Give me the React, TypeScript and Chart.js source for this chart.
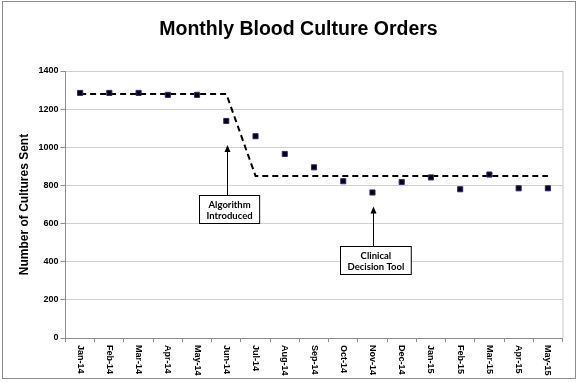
import React, { useEffect, useRef } from "react";
import { Chart, registerables } from "chart.js";

Chart.register(...registerables);

const chartTitle = "Monthly Blood Culture Orders";
const yAxisTitle = "Number of Cultures Sent";

const categories = [
  "Jan-14", "Feb-14", "Mar-14", "Apr-14", "May-14", "Jun-14", "Jul-14", "Aug-14",
  "Sep-14", "Oct-14", "Nov-14", "Dec-14", "Jan-15", "Feb-15", "Mar-15", "Apr-15", "May-15",
];

const culturesSent = [
  1285, 1285, 1285, 1275, 1275, 1138, 1058, 965, 895, 822, 763, 818, 842, 780, 857, 785, 785,
];

const trendLine = [
  1280, 1280, 1280, 1280, 1280, 1280, 850, 850, 850, 850, 850, 850, 850, 850, 850, 850, 850,
];

const yTicks = [0, 200, 400, 600, 800, 1000, 1200, 1400];

const annotations = [
  { index: 5, tipValue: 1012, boxTopValue: 752, lines: ["Algorithm", "Introduced"] },
  { index: 10, tipValue: 690, boxTopValue: 480, lines: ["Clinical", "Decision Tool"] },
];

const FONT = "Arial, \"Liberation Sans\", Helvetica, sans-serif";

const decorPlugin = {
  id: "decor",
  beforeDraw(chart: any) {
    const ctx = chart.ctx;
    const a = chart.chartArea;
    ctx.save();
    ctx.fillStyle = "#fff";
    ctx.fillRect(0, 0, chart.width, chart.height);
    ctx.strokeStyle = "#8c8c8c";
    ctx.lineWidth = 1;
    ctx.strokeRect(2.5, 1.5, 573, 377);
    ctx.strokeStyle = "#c8c8c8";
    ctx.beginPath();
    ctx.moveTo(a.left, a.top + 0.5);
    ctx.lineTo(a.right + 0.5, a.top + 0.5);
    ctx.lineTo(a.right + 0.5, a.bottom);
    ctx.stroke();
    ctx.restore();
  },
  afterDraw(chart: any) {
    const ctx = chart.ctx;
    const xs = chart.scales.x;
    const ys = chart.scales.y;
    const a = chart.chartArea;
    ctx.save();
    // title
    ctx.fillStyle = "#000";
    ctx.font = `bold 19.5px ${FONT}`;
    ctx.textAlign = "center";
    ctx.textBaseline = "middle";
    ctx.fillText(chartTitle, 298.5, 30);
    // rotated category labels (top-to-bottom)
    ctx.font = `bold 9px ${FONT}`;
    ctx.textAlign = "left";
    ctx.textBaseline = "middle";
    categories.forEach((c, i) => {
      const x = xs.getPixelForValue(i);
      ctx.save();
      ctx.translate(x, a.bottom + 7);
      ctx.rotate(Math.PI / 2);
      ctx.fillText(c, 0, 0);
      ctx.restore();
    });
    // annotations
    annotations.forEach((an) => {
      const x = Math.round(xs.getPixelForValue(an.index)) + 1.5;
      const tipY = ys.getPixelForValue(an.tipValue);
      const boxTop = Math.round(ys.getPixelForValue(an.boxTopValue)) + 0.5;
      ctx.font = `bold 9.5px Lato, "Open Sans", sans-serif`;
      const w = Math.max(...an.lines.map((l) => ctx.measureText(l).width)) + 14;
      const h = 28;
      ctx.strokeStyle = "#000";
      ctx.lineWidth = 1;
      ctx.beginPath();
      ctx.moveTo(x, boxTop);
      ctx.lineTo(x, tipY + 2);
      ctx.stroke();
      ctx.fillStyle = "#000";
      ctx.beginPath();
      ctx.moveTo(x, tipY);
      ctx.lineTo(x - 3, tipY + 7);
      ctx.lineTo(x + 3, tipY + 7);
      ctx.closePath();
      ctx.fill();
      const bx = Math.round(x - w / 2 + 2) + 0.5;
      ctx.fillStyle = "#fff";
      ctx.fillRect(bx, boxTop, w, h);
      ctx.strokeRect(bx, boxTop, w, h);
      ctx.fillStyle = "#000";
      ctx.textAlign = "center";
      ctx.textBaseline = "middle";
      an.lines.forEach((l, k) => {
        ctx.fillText(l, bx + w / 2, boxTop + 9 + k * 11);
      });
    });
    ctx.restore();
  },
};

export default function App() {
  const ref = useRef<HTMLCanvasElement | null>(null);
  useEffect(() => {
    if (!ref.current) return;
    const chart = new Chart(ref.current, {
      type: "line",
      data: {
        labels: categories,
        datasets: [
          {
            label: "Cultures Sent",
            data: culturesSent,
            showLine: false,
            pointStyle: "rect",
            pointRadius: 3.6,
            pointHoverRadius: 3.6,
            backgroundColor: "#000010",
            borderColor: "#2a2a70",
            borderWidth: 1,
          },
          {
            label: "Trend",
            data: trendLine,
            borderColor: "#000",
            borderWidth: 2,
            borderDash: [6, 4],
            pointRadius: 0,
            tension: 0,
            fill: false,
          },
        ],
      },
      plugins: [decorPlugin],
      options: {
        animation: false,
        responsive: false,
        devicePixelRatio: 1,
        layout: { padding: { left: 0, right: 17.5, top: 71, bottom: 0 } },
        plugins: {
          legend: { display: false },
          tooltip: { enabled: false },
          title: { display: false },
        },
        scales: {
          x: {
            type: "category",
            offset: true,
            grid: {
              offset: true,
              drawOnChartArea: false,
              drawTicks: true,
              tickLength: 4,
              tickColor: "#8c8c8c",
            },
            border: { color: "#8c8c8c", width: 1 },
            ticks: { display: false },
            afterFit: (s: any) => {
              s.height = 44;
            },
          },
          y: {
            min: 0,
            max: 1400,
            afterBuildTicks: (s: any) => {
              s.ticks = yTicks.map((v) => ({ value: v }));
            },
            grid: {
              color: "#cfcfcf",
              lineWidth: 1,
              borderDash: [1, 2],
              tickLength: 5,
              tickColor: "#8c8c8c",
              tickBorderDash: [],
            } as any,
            border: { color: "#8c8c8c", width: 1 },
            ticks: {
              color: "#000",
              padding: 2,
              font: { family: FONT, size: 9, weight: "bold" },
              callback: (v: any) => String(v),
            },
            title: {
              display: true,
              text: yAxisTitle,
              color: "#000",
              font: { family: FONT, size: 12, weight: "bold" },
              padding: { top: 17.5, bottom: 0 },
            },
            afterFit: (s: any) => {
              s.width = 65.5;
            },
          },
        },
      } as any,
    });
    return () => chart.destroy();
  }, []);
  return (
    <div style={{ position: "absolute", left: 0, top: 0, width: 580, height: 382 }}>
      <canvas ref={ref} width={580} height={382} style={{ display: "block" }} />
    </div>
  );
}
